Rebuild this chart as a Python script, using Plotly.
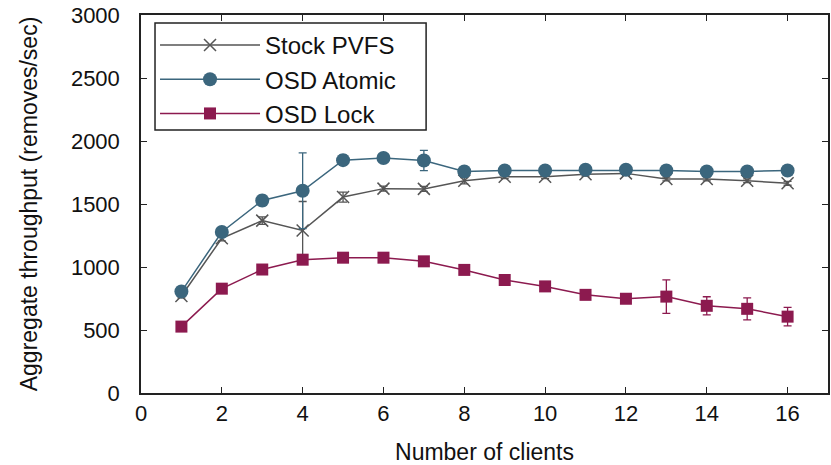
import plotly.graph_objects as go

clients = list(range(1, 17))

stock_pvfs = [770, 1228, 1368, 1290, 1555, 1622, 1620, 1685, 1717, 1717, 1736, 1743, 1698, 1698, 1685, 1664]
stock_err = [15, 20, 30, 230, 40, 20, 20, 25, 15, 15, 15, 15, 15, 15, 15, 15]

osd_atomic = [805, 1278, 1528, 1605, 1848, 1865, 1845, 1758, 1766, 1766, 1772, 1772, 1766, 1758, 1758, 1766]
atomic_err = [15, 20, 40, 300, 40, 20, 80, 15, 15, 15, 15, 15, 15, 15, 15, 15]

osd_lock = [527, 828, 980, 1058, 1074, 1074, 1045, 977, 897, 846, 779, 748, 765, 692, 668, 606]
lock_err = [10, 15, 15, 15, 15, 15, 30, 20, 15, 15, 15, 30, 133, 72, 87, 73]

series_names = ["Stock PVFS", "OSD Atomic", "OSD Lock"]

C_STOCK = "#555555"
C_ATOMIC = "#3b667d"
C_LOCK = "#8c1a4f"
FONT = "Liberation Sans"

fig = go.Figure()
fig.add_trace(go.Scatter(
    x=clients, y=stock_pvfs, name=series_names[0], mode="lines+markers",
    line=dict(color=C_STOCK, width=1.5),
    marker=dict(symbol="x-thin", size=12, line=dict(color=C_STOCK, width=1.5)),
    error_y=dict(type="data", array=stock_err, color=C_STOCK, thickness=1.3, width=4),
))
fig.add_trace(go.Scatter(
    x=clients, y=osd_atomic, name=series_names[1], mode="lines+markers",
    line=dict(color=C_ATOMIC, width=1.5),
    marker=dict(symbol="circle", size=14, color=C_ATOMIC),
    error_y=dict(type="data", array=atomic_err, color=C_ATOMIC, thickness=1.3, width=4),
))
fig.add_trace(go.Scatter(
    x=clients, y=osd_lock, name=series_names[2], mode="lines+markers",
    line=dict(color=C_LOCK, width=1.5),
    marker=dict(symbol="square", size=12, color=C_LOCK),
    error_y=dict(type="data", array=lock_err, color=C_LOCK, thickness=1.3, width=4),
))

axis_common = dict(
    showline=True, linecolor="#222222", linewidth=1.5, mirror="allticks",
    ticks="inside", ticklen=6, tickcolor="#222222", tickwidth=1,
    showgrid=False, zeroline=False, automargin=False,
    tickfont=dict(family=FONT, size=22, color="#111111"),
)

fig.update_xaxes(range=[0, 17], tickvals=[0, 2, 4, 6, 8, 10, 12, 14, 16],
                 title=dict(text="Number of clients", font=dict(family=FONT, size=23, color="#111111"), standoff=20),
                 **axis_common)
fig.update_yaxes(range=[0, 3000], tickvals=[0, 500, 1000, 1500, 2000, 2500, 3000],
                 ticklabelstandoff=15,
                 title=dict(text="Aggregate throughput (removes/sec)", font=dict(family=FONT, size=23, color="#111111"), standoff=27),
                 **axis_common)

# legend frame (box drawn in paper coordinates)
fig.add_shape(
    type="rect", xref="paper", yref="paper", layer="above",
    x0=0.0204, x1=0.415, y0=0.696, y1=0.979,
    line=dict(color="#222222", width=1.5), fillcolor="white",
)

fig.update_layout(
    width=831, height=465,
    margin=dict(l=141, r=3, t=15, b=72),
    plot_bgcolor="white", paper_bgcolor="white",
    font=dict(family=FONT, color="#111111"),
    legend=dict(
        x=0.0204, y=0.979, xanchor="left", yanchor="top",
        borderwidth=0, bgcolor="rgba(0,0,0,0)",
        font=dict(family=FONT, size=24, color="#111111"),
        itemwidth=100, tracegroupgap=0,
    ),
)

fig.write_html(
    "out.html",
    config={"displayModeBar": False},
    post_script="document.body.style.margin='0';document.body.style.overflow='hidden';",
)
